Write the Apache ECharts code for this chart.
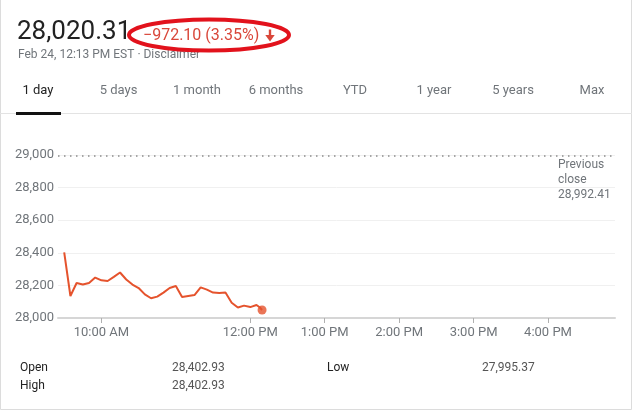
<!DOCTYPE html>
<html>
<head>
<meta charset="utf-8">
<script src="https://cdn.jsdelivr.net/npm/echarts@6/dist/echarts.min.js"></script>
<style>
html,body{margin:0;padding:0;background:#fff;}
#chart{width:633px;height:412px;}
</style>
</head>
<body>
<div id="chart"></div>
<script>
// ---- data ----
// minutes since midnight (9:30 = 570)
var times = [570,575,580,585,590,595,600,605,610,615,620,625,630,635,640,645,650,655,660,665,670,675,680,685,690,695,700,705,710,715,720,725,727.5,729.5];
var prices = [28403,28135,28215,28205,28215,28248,28231,28227,28252,28279,28236,28205,28184,28145,28121,28131,28156,28184,28196,28129,28135,28141,28188,28174,28156,28153,28156,28094,28064,28076,28067,28080,28066,28049];
var xLabelValues = [600,720,780,840,900,960];
var xTickLabels = ['10:00 AM','12:00 PM','1:00 PM','2:00 PM','3:00 PM','4:00 PM'];
var previousClose = 28992.41;
var tabs = ['1 day','5 days','1 month','6 months','YTD','1 year','5 years','Max'];
var tabCenters = [38,118.5,197,276,355,434,513,592];
var headerPrice = '28,020.31';
var headerChange = '\u2212972.10 (3.35%)';
var headerSub = 'Feb 24, 12:13 PM EST \u00b7 Disclaimer';
var statLabels = ['Open','High','Low'];
var statValues = ['28,402.93','28,402.93','27,995.37'];

var lineData = times.map(function(t,i){return [t,prices[i]];});
var lastPoint = lineData[lineData.length-1];

var FONT = 'Roboto, Arial, sans-serif';
var GRAY = '#70757a';
var RED_LINE = '#e5532d';
var RED_TEXT = '#d9473a';

var chart = echarts.init(document.getElementById('chart'), null, {renderer:'canvas'});

var graphics = [];
graphics.push({type:'rect', shape:{x:0.5,y:-2,width:631,height:411.5}, style:{fill:'none',stroke:'#dcdcdc',lineWidth:1}, z:0});
graphics.push({type:'text', x:17, y:32, style:{text:headerPrice, font:'26px '+FONT, fill:'#222', verticalAlign:'middle'}});
graphics.push({type:'text', x:143, y:36, style:{text:headerChange, font:'16px '+FONT, fill:RED_TEXT, verticalAlign:'middle'}});
graphics.push({type:'rect', shape:{x:268.8,y:29.5,width:2.4,height:7}, style:{fill:RED_TEXT}});
graphics.push({type:'polygon', shape:{points:[[265.3,35],[274.7,35],[270,41.5]]}, style:{fill:RED_TEXT}});
graphics.push({type:'ellipse', shape:{cx:209,cy:35,rx:80,ry:15.5}, style:{fill:'none',stroke:'#e2121c',lineWidth:4}, z:10});
graphics.push({type:'text', x:18, y:55, style:{text:headerSub, font:'12px '+FONT, fill:GRAY, verticalAlign:'middle'}});
tabs.forEach(function(t,i){
  graphics.push({type:'text', x:tabCenters[i], y:91, style:{text:t, font:'13px '+FONT, fill:i===0?'#222':GRAY, align:'center', verticalAlign:'middle'}});
});
graphics.push({type:'rect', shape:{x:0,y:113,width:632,height:1}, style:{fill:'#e3e3e3'}});
graphics.push({type:'rect', shape:{x:16,y:112,width:45,height:3}, style:{fill:'#111'}});
graphics.push({type:'text', x:558, y:157, style:{text:'Previous\nclose\n28,992.41', font:'12px '+FONT, fill:GRAY, lineHeight:15, verticalAlign:'top'}});
graphics.push({type:'text', x:20, y:368, style:{text:statLabels[0], font:'12px '+FONT, fill:'#222', verticalAlign:'middle'}});
graphics.push({type:'text', x:20, y:386, style:{text:statLabels[1], font:'12px '+FONT, fill:'#222', verticalAlign:'middle'}});
graphics.push({type:'text', x:327, y:368, style:{text:statLabels[2], font:'12px '+FONT, fill:'#222', verticalAlign:'middle'}});
graphics.push({type:'text', x:172, y:368, style:{text:statValues[0], font:'12px '+FONT, fill:'#555', verticalAlign:'middle'}});
graphics.push({type:'text', x:172, y:386, style:{text:statValues[1], font:'12px '+FONT, fill:'#555', verticalAlign:'middle'}});
graphics.push({type:'text', x:482, y:368, style:{text:statValues[2], font:'12px '+FONT, fill:'#555', verticalAlign:'middle'}});

var option = {
  animation:false,
  backgroundColor:'#fff',
  graphic: graphics,
  grid:{left:58, right:18, top:155, bottom:94, containLabel:false},
  xAxis:{
    type:'value', min:565, max:1014,
    axisLine:{show:true, lineStyle:{color:'#d6d6d6', width:2}},
    axisTick:{show:true, length:5, lineStyle:{color:'#b0b0b0'}, customValues:xLabelValues},
    axisLabel:{show:true, margin:8, color:GRAY, fontSize:13, fontFamily:FONT, customValues:xLabelValues,
      formatter:function(v){var i=xLabelValues.indexOf(v);return i>=0?xTickLabels[i]:'';}},
    splitLine:{show:false}
  },
  yAxis:{
    type:'value', min:28000, max:29000, interval:200,
    axisLine:{show:false}, axisTick:{show:false},
    axisLabel:{margin:4, color:GRAY, fontSize:13, fontFamily:FONT,
      formatter:function(v){return v.toLocaleString('en-US');}},
    splitLine:{show:true, lineStyle:{color:'#f0f0f0', width:1}}
  },
  series:[
    {
      type:'line', data:lineData, showSymbol:false, symbol:'none',
      lineStyle:{color:RED_LINE, width:2}, itemStyle:{color:RED_LINE},
      markLine:{
        silent:true, symbol:['none','none'], label:{show:false},
        lineStyle:{color:'#8a8a8a', width:1.5, type:[1.5,4.5]},
        data:[{yAxis:previousClose}]
      },
      z:3
    },
    {
      type:'scatter', data:[lastPoint], symbol:'circle', symbolSize:9,
      itemStyle:{color:RED_LINE}, z:4
    }
  ]
};
chart.setOption(option);
</script>
</body>
</html>
